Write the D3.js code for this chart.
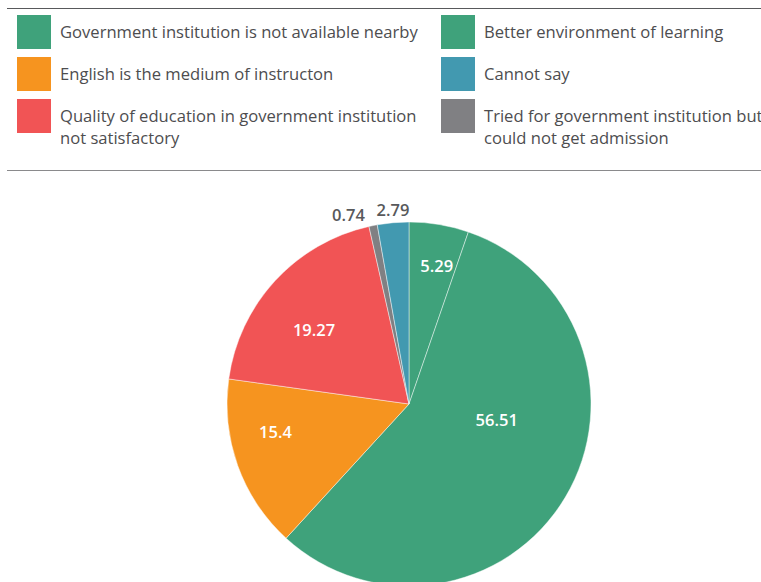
<!DOCTYPE html>
<html>
<head>
<meta charset="utf-8">
<script src="https://cdn.jsdelivr.net/npm/d3@7/dist/d3.min.js"></script>
<style>
  html, body { margin: 0; padding: 0; background: #fff; }
  svg { display: block; font-family: "Open Sans", "Noto Sans", sans-serif; }
</style>
</head>
<body>
<svg id="chart" width="761" height="582"></svg>
<script>
// Reasons for choosing a private institution (% of respondents)
const categories = [
  "Better environment of learning",
  "Government institution is not available nearby",
  "English is the medium of instructon",
  "Quality of education in government institution not satisfactory",
  "Tried for government institution but could not get admission",
  "Cannot say"
];
const values = [5.29, 56.51, 15.4, 19.27, 0.74, 2.79];
const colors = ["#3fa27b", "#3fa27b", "#f6941f", "#f15455", "#808083", "#4299b0"];

// Legend layout: two columns, rows top-to-bottom
const legendOrder = [
  { cat: 1, lines: ["Government institution is not available nearby"] },
  { cat: 2, lines: ["English is the medium of instructon"] },
  { cat: 3, lines: ["Quality of education in government institution", "not satisfactory"] },
  { cat: 0, lines: ["Better environment of learning"] },
  { cat: 5, lines: ["Cannot say"] },
  { cat: 4, lines: ["Tried for government institution but", "could not get admission"] }
];

// Label placement inside each slice: fraction along the slice's angle, fraction of radius
const labelAngleFrac = [0.6, 0.4, 0.64, 0.43, -1.9, 0.53];
const labelRadiusFrac = [0.77, 0.49, 0.75, 0.66, 1.09, 1.07];
const labelInside = [true, true, true, true, false, false];

const svg = d3.select("#chart");
const W = 761;

// Legend frame rules
svg.append("line").attr("x1", 7).attr("x2", W).attr("y1", 8.5).attr("y2", 8.5)
  .attr("stroke", "#58595b").attr("stroke-width", 1);
svg.append("line").attr("x1", 7).attr("x2", W).attr("y1", 170.5).attr("y2", 170.5)
  .attr("stroke", "#8a8a8c").attr("stroke-width", 1);

const colX = [17, 441];
const rowY = [15, 57, 99];
const legend = svg.append("g");
legendOrder.forEach((d, i) => {
  const col = Math.floor(i / 3), row = i % 3;
  const g = legend.append("g").attr("transform", `translate(${colX[col]},${rowY[row]})`);
  g.append("rect").attr("width", 34).attr("height", 34).attr("fill", colors[d.cat]);
  const t = g.append("text").attr("x", 43).attr("y", 23)
    .attr("fill", "#4d4d4f").attr("font-size", 16.6);
  d.lines.forEach((ln, j) => {
    t.append("tspan").attr("x", 43).attr("dy", j === 0 ? 0 : 22).text(ln);
  });
});

// Pie
const cx = 409, cy = 404, R = 182;
const pie = d3.pie().sort(null).value(d => d)(values);
const arc = d3.arc().innerRadius(0).outerRadius(R);
const g = svg.append("g").attr("transform", `translate(${cx},${cy})`);

g.selectAll("path.slice").data(pie).join("path")
  .attr("class", "slice")
  .attr("d", arc)
  .attr("fill", (d, i) => colors[i])
  .attr("stroke", "rgba(255,255,255,0.75)")
  .attr("stroke-width", 0.6);

g.selectAll("text.val").data(pie).join("text")
  .attr("class", "val")
  .each(function (d, i) {
    const a = d.startAngle + (d.endAngle - d.startAngle) * labelAngleFrac[i];
    const r = R * labelRadiusFrac[i];
    d3.select(this)
      .attr("x", r * Math.sin(a))
      .attr("y", -r * Math.cos(a))
      .attr("dy", "0.35em");
  })
  .attr("text-anchor", "middle")
  .attr("font-size", 16.5)
  .attr("font-weight", 600)
  .attr("fill", (d, i) => labelInside[i] ? "#ffffff" : "#58595b")
  .text(d => d.data);
</script>
</body>
</html>
